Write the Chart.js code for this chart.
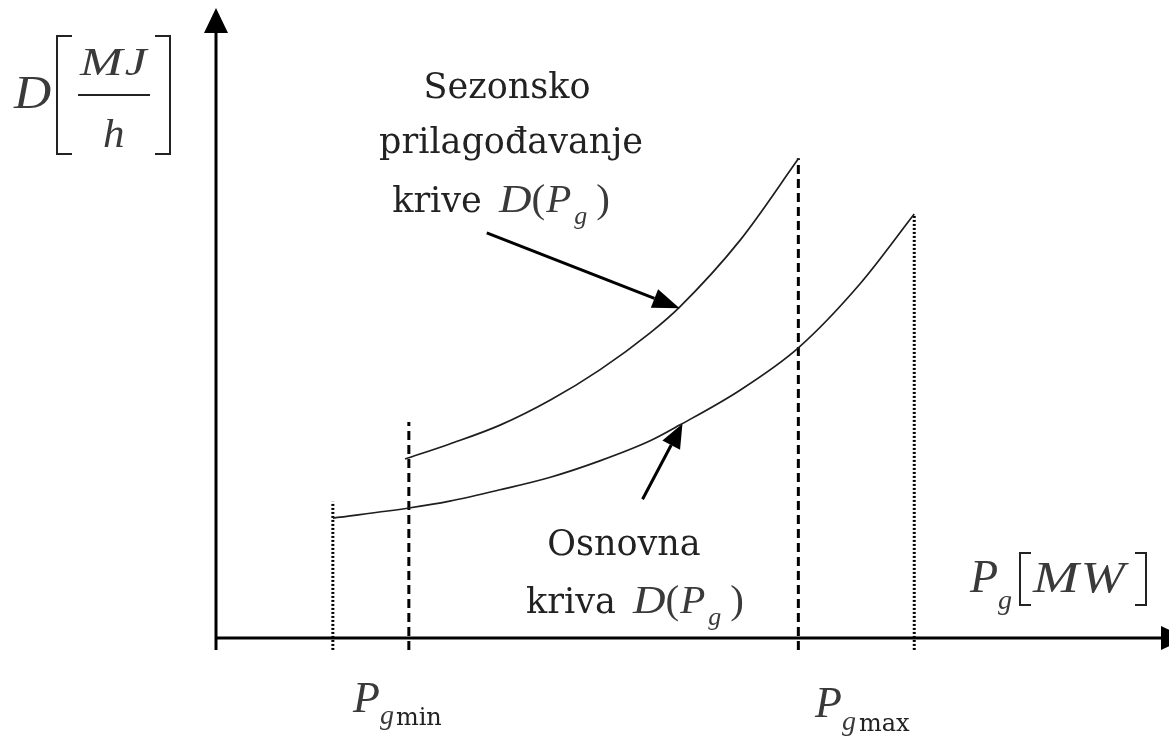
<!DOCTYPE html>
<html>
<head>
<meta charset="utf-8">
<script src="https://cdn.jsdelivr.net/npm/chart.js@4/dist/chart.umd.min.js"></script>
<style>
  html, body { margin: 0; padding: 0; background: #fff; }
  canvas { display: block; }
</style>
</head>
<body>
<canvas id="dCurve" width="1169" height="737"></canvas>
<script>
// osnovna kriva D(Pg)
const baseX = [1.23, 2.03, 2.46, 2.99, 3.52, 4.04, 4.57, 4.88, 5.52, 6.13, 6.78, 7.35];
const baseY = [1.91, 2.07, 2.18, 2.36, 2.56, 2.82, 3.14, 3.39, 3.95, 4.62, 5.64, 6.75];
// sezonski prilagođena kriva
const seasX = [1.99, 2.46, 2.99, 3.52, 4.04, 4.57, 4.88, 5.52, 6.13];
const seasY = [2.85, 3.09, 3.39, 3.79, 4.27, 4.86, 5.27, 6.34, 7.63];

// vertikalne oznake: Pg min / Pg max za obje krive
const guideX = [1.23, 2.03, 6.13, 7.35];
const guideTop = [2.17, 3.44, 7.64, 6.75];
const guideBottom = -0.19;
const guideDotted = [true, false, false, true];

// strelice za natpise (rep -> vrh)
const seasArrow = [[2.85, 6.45], [4.88, 5.25]];
const baseArrow = [[4.49, 2.21], [4.91, 3.41]];

const toPts = (xs, ys) => xs.map((x, i) => ({ x: x, y: ys[i] }));

const datasets = [
  {
    data: toPts(baseX, baseY),
    borderColor: '#1e1e1e',
    borderWidth: 1.7,
    cubicInterpolationMode: 'monotone',
    pointRadius: 0
  },
  {
    data: toPts(seasX, seasY),
    borderColor: '#1e1e1e',
    borderWidth: 1.7,
    cubicInterpolationMode: 'monotone',
    pointRadius: 0
  }
];

guideX.forEach((gx, i) => {
  datasets.push({
    data: [{ x: gx, y: guideBottom }, { x: gx, y: guideTop[i] }],
    borderColor: '#000',
    borderWidth: 3,
    borderDash: guideDotted[i] ? [2, 2] : [9, 5],
    pointRadius: 0,
    clip: false
  });
});

const MATH = 'italic {s}px "Liberation Serif", serif';
const ROMAN = '{s}px "Liberation Serif", serif';
const TEXT = '{s}px "DejaVu Serif", serif';
const f = (tpl, s) => tpl.replace('{s}', s);
const ink = '#3a3a3a';

// crta niz dijelova teksta (indeksi, kurziv...) s lijeva na desno
function runs(ctx, x, y, parts, align) {
  const w = p => { ctx.font = p.font; return ctx.measureText(p.t).width * (p.sx || 1) + (p.gap || 0); };
  const total = parts.reduce((s, p) => s + w(p), 0);
  let cx = align === 'center' ? x - total / 2 : x;
  parts.forEach(p => {
    ctx.font = p.font;
    ctx.fillStyle = p.color || '#222';
    ctx.save();
    ctx.translate(cx, y + (p.dy || 0));
    ctx.scale(p.sx || 1, 1);
    ctx.fillText(p.t, 0, 0);
    ctx.restore();
    cx += w(p);
  });
}

function arrow(ctx, x1, y1, x2, y2, len, half, lw) {
  const a = Math.atan2(y2 - y1, x2 - x1);
  const bx = x2 - len * Math.cos(a), by = y2 - len * Math.sin(a);
  ctx.lineWidth = lw;
  ctx.beginPath();
  ctx.moveTo(x1, y1);
  ctx.lineTo(bx, by);
  ctx.stroke();
  ctx.beginPath();
  ctx.moveTo(x2, y2);
  ctx.lineTo(bx + half * Math.sin(a), by - half * Math.cos(a));
  ctx.lineTo(bx - half * Math.sin(a), by + half * Math.cos(a));
  ctx.closePath();
  ctx.fill();
}

function bracket(ctx, x, top, bottom, w, dir) {
  ctx.beginPath();
  ctx.moveTo(x + dir * w, top);
  ctx.lineTo(x, top);
  ctx.lineTo(x, bottom);
  ctx.lineTo(x + dir * w, bottom);
  ctx.stroke();
}

const decor = {
  id: 'decor',
  afterDatasetsDraw(chart) {
    const ctx = chart.ctx;
    const xs = chart.scales.x, ys = chart.scales.y;
    const ox = xs.getPixelForValue(0), oy = ys.getPixelForValue(0);
    ctx.save();
    ctx.strokeStyle = '#000';
    ctx.fillStyle = '#000';

    // osi
    ctx.lineWidth = 3;
    ctx.beginPath();
    ctx.moveTo(ox, oy + 12);
    ctx.lineTo(ox, 30);
    ctx.moveTo(ox - 1, oy);
    ctx.lineTo(1162, oy);
    ctx.stroke();
    ctx.beginPath();
    ctx.moveTo(ox, 8); ctx.lineTo(ox - 12, 33); ctx.lineTo(ox + 12, 33);
    ctx.closePath(); ctx.fill();
    ctx.beginPath();
    ctx.moveTo(1186, oy); ctx.lineTo(1161, oy - 12); ctx.lineTo(1161, oy + 12);
    ctx.closePath(); ctx.fill();

    // strelice prema krivama
    const P = (p) => [xs.getPixelForValue(p[0]), ys.getPixelForValue(p[1])];
    let a = P(seasArrow[0]), b = P(seasArrow[1]);
    arrow(ctx, a[0], a[1], b[0], b[1], 27, 10, 3);
    a = P(baseArrow[0]); b = P(baseArrow[1]);
    arrow(ctx, a[0], a[1], b[0], b[1], 24, 10, 3);

    ctx.textBaseline = 'alphabetic';

    // oznaka y-osi D[MJ/h]
    runs(ctx, 14, 108, [{ t: 'D', font: f(MATH, 46), color: ink, sx: 1.12 }]);
    runs(ctx, 80, 75, [
      { t: 'M', font: f(MATH, 41), color: ink, sx: 1.25, gap: 2 },
      { t: 'J', font: f(MATH, 41), color: ink, sx: 1.2 }
    ]);
    runs(ctx, 103, 147, [{ t: 'h', font: f(MATH, 41), color: ink, sx: 1.05 }]);
    ctx.lineWidth = 2;
    ctx.strokeStyle = '#222';
    ctx.beginPath(); ctx.moveTo(78, 95); ctx.lineTo(150, 95); ctx.stroke();
    bracket(ctx, 57, 36, 154, 15, 1);
    bracket(ctx, 170, 36, 154, 15, -1);

    // oznaka x-osi Pg[MW]
    runs(ctx, 970, 592, [
      { t: 'P', font: f(MATH, 46), color: ink },
      { t: 'g', font: f(MATH, 28), color: ink, dy: 17 }
    ]);
    bracket(ctx, 1020, 553, 605, 11, 1);
    bracket(ctx, 1146, 553, 605, 11, -1);
    runs(ctx, 1033, 592, [
      { t: 'M', font: f(MATH, 44), color: ink, sx: 1.25, gap: 2 },
      { t: 'W', font: f(MATH, 44), color: ink, sx: 1.2 }
    ]);

    // Pg min / Pg max
    runs(ctx, 353, 712, [
      { t: 'P', font: f(MATH, 44), color: ink },
      { t: 'g', font: f(MATH, 28), color: ink, dy: 12, gap: 2 },
      { t: 'min', font: f(TEXT, 24), color: '#222', dy: 13 }
    ]);
    runs(ctx, 815, 717, [
      { t: 'P', font: f(MATH, 44), color: ink },
      { t: 'g', font: f(MATH, 28), color: ink, dy: 13, gap: 3 },
      { t: 'max', font: f(TEXT, 24), color: '#222', dy: 14 }
    ]);

    // natpisi krivih
    ctx.fillStyle = '#222';
    ctx.textAlign = 'center';
    ctx.font = f(TEXT, 35);
    ctx.fillText('Sezonsko', 507, 98);
    ctx.fillText('prilagođavanje', 511, 153);
    ctx.fillText('Osnovna', 624, 555);
    ctx.textAlign = 'left';
    const dpg = [
      { t: 'D', font: f(MATH, 41), color: ink, sx: 1.1 },
      { t: '(', font: f(ROMAN, 41), color: ink, gap: 1 },
      { t: 'P', font: f(MATH, 41), color: ink, gap: 3 },
      { t: 'g', font: f(MATH, 26), color: ink, dy: 12, gap: 9 },
      { t: ')', font: f(ROMAN, 41), color: ink }
    ];
    runs(ctx, 501, 212, [{ t: 'krive ', font: f(TEXT, 35), color: '#222', gap: 6 }].concat(dpg), 'center');
    runs(ctx, 635, 613, [{ t: 'kriva ', font: f(TEXT, 35), color: '#222', gap: 6 }].concat(dpg), 'center');

    ctx.restore();
  }
};

new Chart(document.getElementById('dCurve'), {
  type: 'line',
  data: { datasets: datasets },
  options: {
    responsive: false,
    animation: false,
    layout: { padding: { left: 216, right: 3, top: 10, bottom: 99 } },
    plugins: { legend: { display: false }, tooltip: { enabled: false } },
    scales: {
      x: { type: 'linear', min: 0, max: 10, display: false },
      y: { type: 'linear', min: 0, max: 10, display: false }
    }
  },
  plugins: [decor]
});
</script>
</body>
</html>
